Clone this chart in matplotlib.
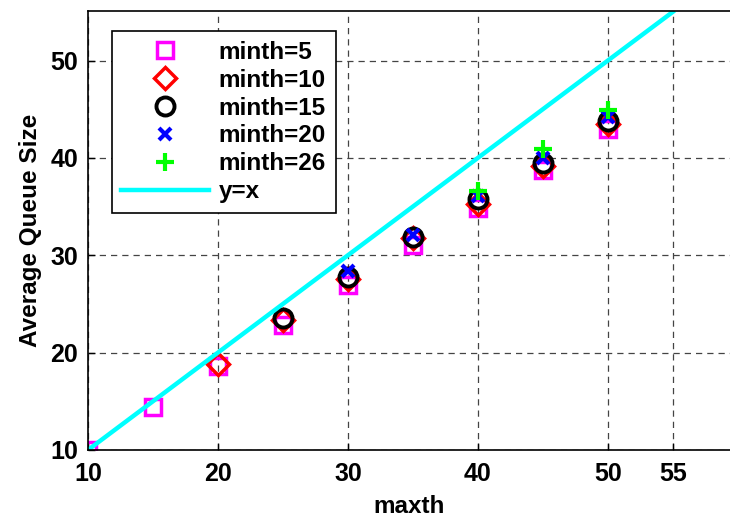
import matplotlib.pyplot as plt

plt.rcParams['font.family'] = ['Liberation Sans', 'DejaVu Sans']
plt.rcParams['font.weight'] = 'bold'

# average queue size vs maxth, one series per minth
maxth_5 = [10, 15, 20, 25, 30, 35, 40, 45, 50]
avg_5 = [10.0, 14.4, 18.6, 22.8, 26.9, 31.1, 34.9, 38.8, 43.0]

maxth_10 = [20, 25, 30, 35, 40, 45, 50]
avg_10 = [18.8, 23.4, 27.6, 31.8, 35.3, 39.2, 43.5]

maxth_15 = [25, 30, 35, 40, 45, 50]
avg_15 = [23.6, 27.8, 31.9, 35.8, 39.5, 43.8]

maxth_20 = [30, 35, 40, 45, 50]
avg_20 = [28.4, 32.1, 36.1, 40.0, 44.2]

maxth_26 = [40, 45, 50]
avg_26 = [36.6, 40.9, 44.9]

ref_x = [10, 55]

fig = plt.figure(figsize=(7.3, 5.19), dpi=100)
ax = fig.add_axes([0.1205, 0.133, 0.8795, 0.846])

ax.plot(maxth_5, avg_5, 's', mfc='none', mec='magenta', ms=12, mew=2.5, label='minth=5')
ax.plot(maxth_10, avg_10, 'D', mfc='none', mec='red', ms=11, mew=2.5, label='minth=10')
ax.plot(maxth_15, avg_15, 'o', mfc='none', mec='black', ms=13, mew=2.8, label='minth=15')
ax.plot(maxth_20, avg_20, 'x', color='blue', ms=8, mew=3, label='minth=20')
ax.plot(maxth_26, avg_26, '+', color='#00ff00', ms=13, mew=3, label='minth=26')
ax.plot(ref_x, ref_x, '-', color='cyan', lw=3.2, label='y=x')

ax.set_xlim(10, 59.4)
ax.set_ylim(10, 55.1)
ax.set_xticks([10, 20, 30, 40, 50, 55])
ax.set_yticks([10, 20, 30, 40, 50])
ax.tick_params(direction='in', labelsize=18, length=5, width=1)
ax.tick_params(axis='x', pad=9)
ax.tick_params(axis='y', pad=7)
for lbl in ax.get_xticklabels() + ax.get_yticklabels():
    lbl.set_fontweight('bold')

ax.grid(True, color='#444444', linestyle=(0, (5, 4)), linewidth=0.9)
ax.spines['right'].set_visible(False)
for s in ['left', 'bottom', 'top']:
    ax.spines[s].set_linewidth(1.2)

ax.set_xlabel('maxth', fontsize=17.5, fontweight='bold', labelpad=6)
ax.set_ylabel('Average Queue Size', fontsize=17.5, fontweight='bold', labelpad=6)

leg = ax.legend(loc='upper left', bbox_to_anchor=(0.037, 0.954), fontsize=17.5,
                handlelength=3.6, handletextpad=0.4, labelspacing=0.2,
                borderpad=0.4, borderaxespad=0, fancybox=False, framealpha=1,
                edgecolor='black')
leg.get_frame().set_linewidth(1.2)

fig.savefig('out.png', dpi=100)
